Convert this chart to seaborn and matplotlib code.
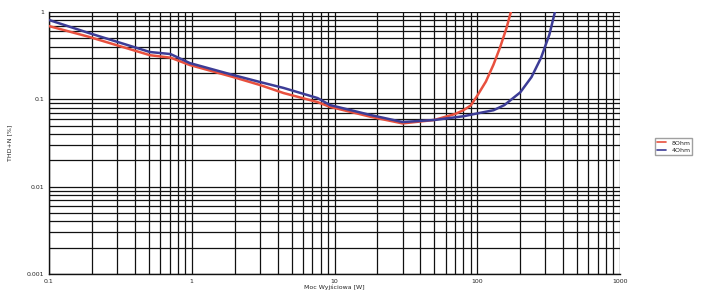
import numpy as np
import pandas as pd
import matplotlib
matplotlib.use("Agg")
import matplotlib.pyplot as plt
import seaborn as sns
from matplotlib.ticker import LogLocator, FixedLocator, FixedFormatter, NullFormatter

# Data
power_8ohm = [0.1, 0.19, 0.51, 0.71, 0.97, 1.95, 3.0, 4.4, 7.6, 9.3, 18, 30, 50, 70, 80, 90, 100, 115, 130, 145, 160, 172]
thd_8ohm = [0.69, 0.52, 0.32, 0.30, 0.247, 0.18, 0.146, 0.118, 0.093, 0.082, 0.063, 0.053, 0.058, 0.068, 0.075, 0.085, 0.11, 0.16, 0.25, 0.4, 0.65, 1.0]
power_4ohm = [0.1, 0.19, 0.51, 0.71, 0.97, 1.95, 3.0, 4.4, 7.6, 9.3, 18, 30, 50, 80, 100, 130, 155, 200, 240, 280, 320, 350]
thd_4ohm = [0.81, 0.575, 0.348, 0.33, 0.26, 0.19, 0.158, 0.135, 0.1035, 0.086, 0.066, 0.055, 0.058, 0.064, 0.069, 0.075, 0.086, 0.12, 0.18, 0.3, 0.55, 1.0]
series_names = ["8Ohm", "4Ohm"]
x_ticks = [0.1, 1, 10, 100, 1000]
x_tick_labels = ["0.1", "1", "10", "100", "1000"]
y_ticks = [0.001, 0.01, 0.1, 1]
y_tick_labels = ["0.001", "0.01", "0.1", "1"]

df = pd.concat([
    pd.DataFrame({"P": power_8ohm, "THD": thd_8ohm, "s": series_names[0]}),
    pd.DataFrame({"P": power_4ohm, "THD": thd_4ohm, "s": series_names[1]}),
])

sns.set_style("white")
plt.rcParams['font.family'] = ['DejaVu Sans']
fig, ax = plt.subplots(figsize=(7.05, 2.93), dpi=100)
fig.subplots_adjust(left=49/705, right=620/705, top=1-12/293, bottom=1-274/293)

sns.lineplot(data=df, x="P", y="THD", hue="s", sort=False,
             palette={"8Ohm": "#e8503e", "4Ohm": "#3c3c96"},
             linewidth=1.8, ax=ax, legend=True, zorder=3)
ax.set_xscale("log")
ax.set_yscale("log")
ax.set_xlim(0.1, 1000)
ax.set_ylim(0.001, 1)
ax.xaxis.set_major_locator(FixedLocator(x_ticks))
ax.xaxis.set_major_formatter(FixedFormatter(x_tick_labels))
ax.yaxis.set_major_locator(FixedLocator(y_ticks))
ax.yaxis.set_major_formatter(FixedFormatter(y_tick_labels))
ax.xaxis.set_minor_locator(LogLocator(base=10, subs=np.arange(2, 10)))
ax.yaxis.set_minor_locator(LogLocator(base=10, subs=np.arange(2, 10)))
ax.xaxis.set_minor_formatter(NullFormatter())
ax.yaxis.set_minor_formatter(NullFormatter())
ax.grid(True, which="both", color="#111111", linewidth=0.9)
ax.tick_params(axis="both", which="major", labelsize=4.5, length=2, color="#111111", pad=1.5)
ax.tick_params(axis="both", which="minor", length=0)
for sp in ["top", "right"]:
    ax.spines[sp].set_visible(False)
for sp in ["left", "bottom"]:
    ax.spines[sp].set_color("#111111")
    ax.spines[sp].set_linewidth(1.0)
ax.set_xlabel("Moc Wyjściowa [W]", fontsize=4.5, labelpad=0.5)
ax.set_ylabel("THD+N [%]", fontsize=4.5, labelpad=10)

leg = ax.legend(loc="center left", bbox_to_anchor=(652/705, 0.5), bbox_transform=fig.transFigure,
                fontsize=4.5, frameon=True, fancybox=False, edgecolor="#888888",
                handlelength=1.5, borderpad=0.3, labelspacing=0.3)
for line in leg.get_lines():
    line.set_linewidth(1.2)

fig.savefig("out.png", dpi=100, facecolor="white")
